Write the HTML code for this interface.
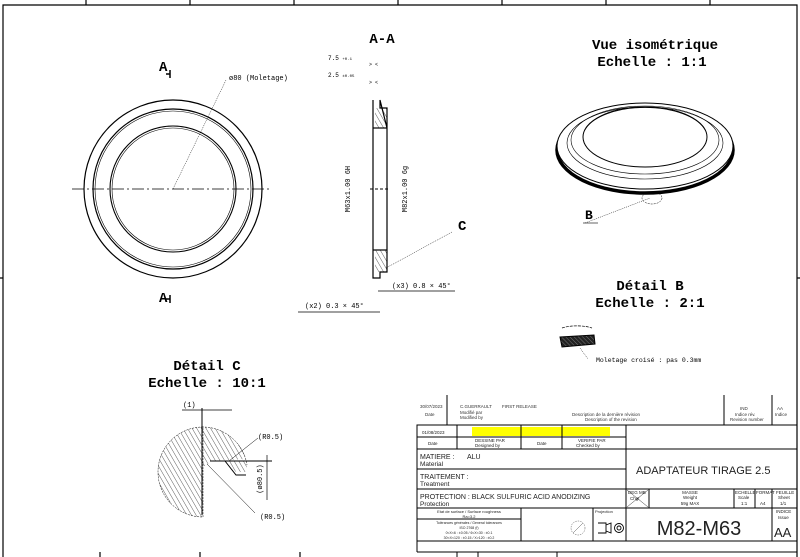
<!DOCTYPE html>
<html><head><meta charset="utf-8"><style>
html,body{margin:0;padding:0;background:#fff;}
svg{display:block;font-family:"Liberation Mono",monospace;}
.t{font-family:"Liberation Sans",sans-serif;}
.b{font-family:"Liberation Mono",monospace;font-weight:bold;}
</style></head><body>
<svg width="800" height="557" viewBox="0 0 800 557" xmlns="http://www.w3.org/2000/svg">
<defs>
<pattern id="h" width="4" height="4" patternUnits="userSpaceOnUse" patternTransform="rotate(-30)">
<line x1="0" y1="0" x2="0" y2="4" stroke="#333" stroke-width="0.8"/>
</pattern>
<pattern id="k" width="3" height="3" patternUnits="userSpaceOnUse" patternTransform="rotate(45)">
<rect width="3" height="3" fill="#222"/><line x1="0" y1="0" x2="3" y2="0" stroke="#aaa" stroke-width="0.6"/>
</pattern>
</defs>
<g stroke="#000" fill="none" stroke-width="1.2">
<path d="M3,557 V5 H797 V557"/>
<path d="M86,0V5 M190,0V5 M294,0V5 M398,0V5 M502,0V5 M606,0V5 M710,0V5 M0,278H3 M797,278H800"/>
<path d="M100,552V557 M200,552V557 M300,552V557"/>
</g>

<g fill="none" stroke="#000">
<circle cx="173" cy="189" r="89" stroke-width="1.2"/>
<circle cx="173" cy="189" r="80" stroke-width="1.2"/>
<circle cx="173" cy="189" r="78" stroke-width="0.6"/>
<circle cx="173" cy="189" r="63" stroke-width="1.1"/>
<circle cx="173" cy="189" r="61" stroke-width="0.6"/>
<line x1="72" y1="189" x2="272" y2="189" stroke-width="0.8" stroke-dasharray="12,3,2,3"/>
<line x1="173" y1="189" x2="226" y2="80" stroke-width="0.5" stroke-dasharray="1,1"/>
<path d="M170,70v8 M166,74h4 M170,295v8 M166,299h4" stroke-width="1.5"/>
</g>
<text x="159" y="71" class="b" font-size="14">A</text>
<text x="159" y="302" class="b" font-size="14">A</text>
<text x="229" y="80" font-size="7">ø80 (Moletage)</text>

<text x="382" y="43" class="b" font-size="14" text-anchor="middle">A-A</text>
<text x="328" y="60" font-size="6">7.5 <tspan font-size="4">+0.1</tspan></text>
<text x="328" y="77" font-size="6">2.5 <tspan font-size="4">±0.05</tspan></text>
<text x="369" y="66" font-size="5">&gt;   &lt;</text>
<text x="369" y="84" font-size="5">&gt; &lt;</text>
<rect x="375" y="108" width="12" height="20" fill="url(#h)" stroke="none"/>
<rect x="375" y="250" width="12" height="22" fill="url(#h)" stroke="none"/>
<g fill="none" stroke="#000" stroke-width="1.2">
<path d="M373,100 V278 H380 V272 H387 V250 M387,128 V108 H380 V100 Z"/>
<line x1="373" y1="128" x2="387" y2="128"/>
<line x1="373" y1="250" x2="387" y2="250"/>
<line x1="387" y1="128" x2="387" y2="250"/>
</g>
<line x1="370" y1="189" x2="390" y2="189" stroke="#000" stroke-dasharray="3,2"/>
<line x1="386" y1="268" x2="452" y2="232" stroke="#000" stroke-width="0.5" stroke-dasharray="1,1"/>
<text x="350" y="189" font-size="7" transform="rotate(-90 350 189)" text-anchor="middle">M63x1.00 6H</text>
<text x="407" y="189" font-size="7" transform="rotate(-90 407 189)" text-anchor="middle">M82x1.00 6g</text>
<text x="458" y="230" class="b" font-size="14">C</text>
<text x="392" y="288" font-size="7">(x3) 0.8 × 45°</text>
<line x1="378" y1="291" x2="455" y2="291" stroke="#000" stroke-width="0.8"/>
<text x="305" y="308" font-size="7">(x2) 0.3 × 45°</text>
<line x1="298" y1="312" x2="380" y2="312" stroke="#000" stroke-width="0.8"/>

<text x="655" y="49" class="b" font-size="14" text-anchor="middle">Vue isométrique</text>
<text x="652" y="66" class="b" font-size="14" text-anchor="middle">Echelle :  1:1</text>
<g fill="none" stroke="#000">
<ellipse cx="645" cy="150" rx="88" ry="43" stroke-width="3.5"/>
<ellipse cx="645" cy="146" rx="88" ry="43" stroke-width="1" fill="#fff"/>
<ellipse cx="645" cy="143" rx="78" ry="36" stroke-width="0.6"/>
<ellipse cx="645" cy="140" rx="74" ry="34" stroke-width="0.6"/>
<ellipse cx="645" cy="137" rx="62" ry="30" stroke-width="1"/>
<path d="M585,130 A62,30 0 0 1 705,130" stroke-width="0.6"/>
<ellipse cx="652" cy="198" rx="10" ry="6" stroke-width="0.5" stroke-dasharray="2,1"/>
<line x1="585" y1="223" x2="650" y2="198" stroke-width="0.5" stroke-dasharray="1,1"/>
<line x1="583" y1="223" x2="598" y2="223" stroke-width="0.6"/>
</g>
<text x="585" y="219" class="b" font-size="13">B</text>

<text x="650" y="290" class="b" font-size="14" text-anchor="middle">Détail B</text>
<text x="650" y="307" class="b" font-size="14" text-anchor="middle">Echelle :  2:1</text>
<path d="M562,328 A22,8 0 0 1 592,328" fill="none" stroke="#000" stroke-width="0.7" stroke-dasharray="3,1"/>
<path d="M560,337 L594,335 L595,344 L562,347 Z" fill="url(#k)" stroke="#000"/>
<line x1="580" y1="348" x2="588" y2="359" stroke="#000" stroke-width="0.5" stroke-dasharray="1,1"/>
<text x="596" y="362" font-size="6.5">Moletage  croisé : pas 0.3mm</text>

<text x="207" y="370" class="b" font-size="14" text-anchor="middle">Détail C</text>
<text x="207" y="387" class="b" font-size="14" text-anchor="middle">Echelle :  10:1</text>
<path d="M203,427 A45,45 0 0 0 203,517 Z" fill="url(#h)" stroke="#000" stroke-width="0.5" stroke-dasharray="2,1"/>
<path d="M203,427 A45,45 0 0 1 246,459 L210,461 L207,466 L203,466 Z" fill="url(#h)"/>
<path d="M225,461 L236,472 L246,472 A45,45 0 0 0 247,461 Z" fill="url(#h)"/>
<g stroke="#000" fill="none">
<line x1="202" y1="408" x2="202" y2="515" stroke-width="1"/>
<line x1="182" y1="410" x2="232" y2="410" stroke-width="0.7"/>
<line x1="210" y1="461" x2="272" y2="461" stroke-width="1"/>
<path d="M225,461 L236,475 H246" stroke-width="1"/>
<line x1="267" y1="455" x2="267" y2="500" stroke-width="0.7"/>
<line x1="229" y1="461" x2="258" y2="438" stroke-width="0.5"/>
<line x1="207" y1="464" x2="255" y2="513" stroke-width="0.5"/>
<path d="M202,427 A45,45 0 0 1 247,465" stroke-width="0.5" stroke-dasharray="2,1"/>
</g>
<text x="183" y="407" font-size="7">(1)</text>
<text x="258" y="439" font-size="7">(R0.5)</text>
<text x="260" y="519" font-size="7">(R0.5)</text>
<text x="262" y="479" font-size="7" transform="rotate(-90 262 479)" text-anchor="middle">(ø80.5)</text>

<g class="t" font-size="4.5" fill="#333">
<text x="420" y="408">30/07/2023</text><text x="425" y="416">Date</text>
<text x="460" y="408">C.GUERRAULT</text><text x="460" y="414">Modifié par</text><text x="460" y="419">Modified by</text>
<text x="502" y="408">FIRST RELEASE</text>
<text x="572" y="416">Description de la dernière révision</text><text x="585" y="421">Description of the revision</text>
<text x="740" y="410">IND</text><text x="735" y="416">Indice rév.</text><text x="730" y="421">Revision number</text>
<text x="777" y="410">AA</text><text x="775" y="416">Indice</text>
</g>
<rect x="472" y="427" width="138" height="9" fill="#ffff00"/>
<g stroke="#000" fill="none" stroke-width="1">
<line x1="447" y1="395" x2="447" y2="425"/>
<line x1="724" y1="395" x2="724" y2="425"/>
<line x1="772" y1="395" x2="772" y2="425"/>
<path d="M417,552 V425 H797"/>
<line x1="417" y1="541" x2="797" y2="541"/>
<line x1="417" y1="552" x2="797" y2="552"/>
<path d="M457,552V557 M478,552V557 M557,552V557"/>
<line x1="417" y1="437" x2="626" y2="437"/>
<line x1="417" y1="449" x2="626" y2="449"/>
<line x1="626" y1="425" x2="626" y2="541"/>
<line x1="457" y1="425" x2="457" y2="449"/>
<line x1="521" y1="425" x2="521" y2="449"/>
<line x1="562" y1="425" x2="562" y2="449"/>
<line x1="626" y1="449" x2="797" y2="449"/>
<line x1="417" y1="469" x2="626" y2="469"/>
<line x1="417" y1="489" x2="797" y2="489"/>
<line x1="417" y1="508" x2="797" y2="508"/>
<line x1="417" y1="519" x2="521" y2="519"/>
<line x1="521" y1="508" x2="521" y2="541"/>
<line x1="593" y1="508" x2="593" y2="541"/>
<line x1="649" y1="489" x2="649" y2="508"/>
<line x1="734" y1="489" x2="734" y2="508"/>
<line x1="755" y1="489" x2="755" y2="508"/>
<line x1="772" y1="489" x2="772" y2="541"/>
<path d="M627,490 L648,507 M648,490 L627,507" stroke-width="0.4"/>
</g>
<g class="t" fill="#222">
<text x="422" y="434" font-size="4.5">01/08/2023</text>
<text x="428" y="445" font-size="4.5">Date</text>
<text x="475" y="442" font-size="4.5">DESSINE PAR</text><text x="475" y="447" font-size="4.5">Designed by</text>
<text x="537" y="445" font-size="4.5">Date</text>
<text x="578" y="442" font-size="4.5">VERIFIE PAR</text><text x="576" y="447" font-size="4.5">Checked by</text>
<text x="420" y="459" font-size="7">MATIERE :</text><text x="467" y="459" font-size="7">ALU</text>
<text x="420" y="466" font-size="6.5">Material</text>
<text x="420" y="479" font-size="7">TRAITEMENT :</text>
<text x="420" y="486" font-size="6.5">Treatment</text>
<text x="420" y="499" font-size="7">PROTECTION : BLACK SULFURIC ACID ANODIZING</text>
<text x="420" y="506" font-size="6.5">Protection</text>
<text x="636" y="474" font-size="11">ADAPTATEUR TIRAGE 2.5</text>
<text x="628" y="494" font-size="4.5">DEG MB</text><text x="630" y="500" font-size="4.5">Chgt</text>
<text x="690" y="494" font-size="4.5" text-anchor="middle">MASSE</text><text x="690" y="499" font-size="4.5" text-anchor="middle">Weight</text><text x="690" y="505" font-size="4.5" text-anchor="middle">59g MAX</text>
<text x="735" y="494" font-size="4.5">ECHELLE</text><text x="738" y="499" font-size="4.5">Scale</text><text x="741" y="505" font-size="4.5">1:1</text>
<text x="756" y="494" font-size="4.5">FORMAT</text><text x="760" y="505" font-size="4.5">A4</text>
<text x="776" y="494" font-size="4.5">FEUILLE</text><text x="778" y="499" font-size="4.5">Sheet</text><text x="780" y="505" font-size="4.5">1/1</text>
<text x="469" y="513" font-size="4" text-anchor="middle">Etat de surface / Surface roughness</text><text x="469" y="518" font-size="4" text-anchor="middle">Ra=3.2</text>
<text x="469" y="524" font-size="3.5" text-anchor="middle">Tolérances générales / General tolerances</text>
<text x="469" y="529" font-size="3.5" text-anchor="middle">ISO 2768 (f)</text>
<text x="469" y="534" font-size="3.5" text-anchor="middle">0&lt;X&lt;6 : ±0.05 / 6&lt;X&lt;30 : ±0.1</text>
<text x="469" y="539" font-size="3.5" text-anchor="middle">30&lt;X&lt;120 : ±0.15 / X&gt;120 : ±0.2</text>
<text x="595" y="513" font-size="4">Projection</text>
<text x="699" y="535" font-size="20" text-anchor="middle">M82-M63</text>
<text x="776" y="513" font-size="4.5">INDICE</text><text x="778" y="519" font-size="4.5">Issue</text>
<text x="774" y="537" font-size="13">AA</text>
</g>
<circle cx="578" cy="528" r="7" fill="none" stroke="#555" stroke-width="0.5" stroke-dasharray="1.5,1"/>
<line x1="573" y1="533" x2="583" y2="523" stroke="#555" stroke-width="0.5"/>
<g fill="none" stroke="#000" stroke-width="0.9">
<path d="M598,523 H606 V533 H598 M606,525 L611,523 V533 L606,531"/>
<circle cx="619" cy="528" r="4.5"/><circle cx="619" cy="528" r="2"/>
</g>
</svg>
</body></html>
